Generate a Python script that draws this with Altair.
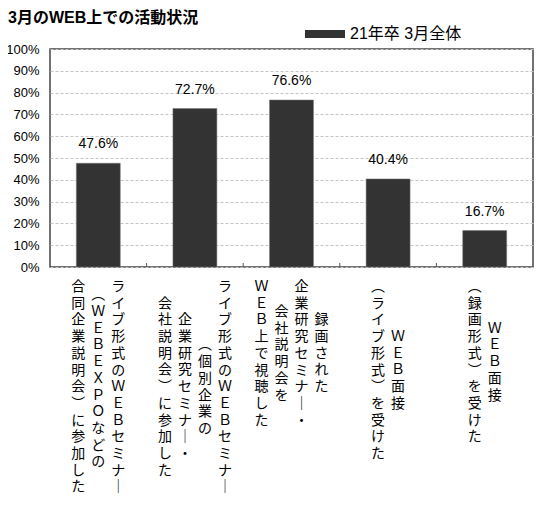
import altair as alt
import pandas as pd

# ---------------------------------------------------------
# DATA
# ---------------------------------------------------------
series_name = "21年卒 3月全体"

# label columns for each category, read right to left (vertical writing)
label_columns = [
    ["ライブ形式のＷＥＢセミナー", "（ＷＥＢ　ＥＸＰＯなどの", "合同企業説明会）に参加した"],
    ["ライブ形式のＷＥＢセミナー", "（個別企業の", "企業研究セミナー・", "会社説明会）に参加した"],
    ["録画された", "企業研究セミナー・", "会社説明会を", "ＷＥＢ上で視聴した"],
    ["ＷＥＢ面接", "（ライブ形式）を受けた"],
    ["ＷＥＢ面接", "（録画形式）を受けた"],
]
categories = ["".join(cols) for cols in label_columns]
values = [47.6, 72.7, 76.6, 40.4, 16.7]
y_ticks = [0, 10, 20, 30, 40, 50, 60, 70, 80, 90, 100]

W, H = 483, 218
LINE_H = 16.7
COL_STEP = 0.207  # distance between text columns, in category units
FONT = "Liberation Sans, Noto Sans CJK JP"
JP_FONT = "Noto Sans CJK JP"

# vertical forms for punctuation that turns in vertical writing
VERT = {"（": "︵", "）": "︶", "ー": "｜"}

bars_df = pd.DataFrame({"category": categories, "value": values, "series": series_name})
bars_df["label"] = [f"{v:.1f}%" for v in values]

# inner tick marks sit on the boundaries between categories
ticks_df = pd.DataFrame({"category": categories[1:]})

rows = []
for i, cols in enumerate(label_columns):
    n = len(cols)
    longest = max(len(c) for c in cols)
    for j, col in enumerate(cols):
        rows.append({
            "xpos": i + 0.5 + ((n - 1) / 2 - j) * COL_STEP,
            "ypos": (longest - len(col)) / 2,
            "text": "\n".join(VERT.get(ch, ch) for ch in col),
        })
labels_df = pd.DataFrame(rows)

# ---------------------------------------------------------
# CHART
# ---------------------------------------------------------
x_band = alt.X(
    "category:N", sort=categories,
    scale=alt.Scale(domain=categories, paddingInner=0, paddingOuter=0),
    axis=None,
)
y_val = alt.Y(
    "value:Q", scale=alt.Scale(domain=[0, 100]),
    axis=alt.Axis(values=y_ticks, title=None, domain=False, ticks=False, labelOverlap=False,
                  labelPadding=11, labelFontSize=13, labelColor="black", labelFont=FONT,
                  labelExpr="datum.value + '%'", gridDash=[3, 2], gridColor="#c4c4c4"),
)

bars = alt.Chart(bars_df).mark_bar(
    width={"band": 0.455}, stroke="#777", strokeWidth=0.5
).encode(
    x=x_band,
    y=y_val,
    color=alt.Color(
        "series:N",
        scale=alt.Scale(range=["#333333"]),
        legend=alt.Legend(
            title=None, orient="none", legendX=255, legendY=-35, padding=0,
            symbolType="M-1,-0.2H1V0.2H-1Z", symbolSize=1600, symbolStrokeWidth=0,
            symbolOpacity=1, labelFontSize=16, labelFont=FONT, labelColor="black",
            labelOffset=5,
        ),
    ),
)

pct = alt.Chart(bars_df).mark_text(
    dy=-15, baseline="alphabetic", fontSize=14, font=FONT, color="black"
).encode(
    x=x_band,
    y=y_val,
    text="label:N",
)

ticks = alt.Chart(ticks_df).mark_rule(color="#555", strokeWidth=1).encode(
    x=alt.X("category:N", sort=categories,
            scale=alt.Scale(domain=categories, paddingInner=0, paddingOuter=0),
            bandPosition=0, axis=None),
    y=alt.value(H - 4),
    y2=alt.value(H),
)

cat_labels = alt.Chart(labels_df).mark_text(
    lineBreak="\n", baseline="top", align="center", fontSize=14,
    lineHeight=LINE_H, font=JP_FONT, color="black"
).encode(
    x=alt.X("xpos:Q", scale=alt.Scale(domain=[0, 5]), axis=None),
    y=alt.Y("ypos:Q", scale=alt.Scale(domain=[0, 14], range=[H + 13, H + 13 + 14 * LINE_H]),
            axis=None),
    text="text:N",
)

chart = (
    alt.layer(alt.layer(bars, pct, ticks), cat_labels)
    .resolve_scale(x="independent", y="independent")
    .properties(
        width=W, height=H,
        autosize=alt.AutoSizeParams(type="none"),
        padding={"left": 42, "top": 41, "right": 4, "bottom": 238},
        title=alt.TitleParams(
            "3月のWEB上での活動状況", anchor="start", frame="group", dx=-42, dy=16,
            fontSize=16, fontWeight="bold", font=FONT, color="black",
        ),
    )
    .configure_view(stroke="#444", strokeWidth=1.5)
)

chart.save("out.html", embed_options={"renderer": "svg", "actions": False})
